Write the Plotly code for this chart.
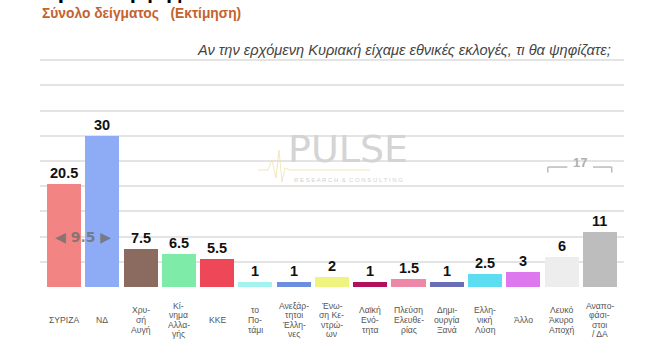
import plotly.graph_objects as go

categories = ["ΣΥΡΙΖΑ", "ΝΔ", "Χρυ-<br>σή<br>Αυγή", "Κί-<br>νημα<br>Αλλα-<br>γής", "ΚΚΕ",
              "το<br>Πο-<br>τάμι", "Ανεξάρ-<br>τητοι<br>Έλλη-<br>νες", "Ένω-<br>ση Κε-<br>ντρώ-<br>ων",
              "Λαϊκή<br>Ενό-<br>τητα", "Πλεύση<br>Ελευθε-<br>ρίας", "Δημι-<br>ουργία<br>Ξανά",
              "Ελλη-<br>νική<br>Λύση", "Άλλο", "Λευκό<br>Άκυρο<br>Αποχή", "Αναπο-<br>φάσι-<br>στοι<br>/ ΔΑ"]
values = [20.5, 30, 7.5, 6.5, 5.5, 1, 1, 2, 1, 1.5, 1, 2.5, 3, 6, 11]
value_labels = ["20.5", "30", "7.5", "6.5", "5.5", "1", "1", "2", "1", "1.5", "1", "2.5", "3", "6", "11"]
colors = ["#F28583", "#8EACF5", "#8B6A60", "#7FEBA9", "#EE4757", "#A3F3F1", "#6C8EE0", "#EEF47E",
          "#B3105C", "#EE88A9", "#6A6EB6", "#5CDDF1", "#DE78EF", "#EDEDED", "#BDBDBD"]
gap_label = "◀ 9.5 ▶"
undecided_sum = "17"

W, H = 660, 340
ML, MR, MT, MB = 40, 36, 35, 53
PW, PH = W - ML - MR, H - MT - MB


def px(x):
    return (x - ML) / PW


def py(y):
    return (H - MB - y) / PH


x_idx = list(range(len(categories)))

fig = go.Figure()
fig.add_trace(go.Bar(x=x_idx, y=values, marker=dict(color=colors, line=dict(width=0)),
                     width=0.89, hoverinfo="skip"))

annotations = []
for i, (v, t) in enumerate(zip(values, value_labels)):
    annotations.append(dict(x=i, y=v, xref="x", yref="y", text="<b>" + t + "</b>", showarrow=False,
                            yanchor="middle", yshift=11,
                            font=dict(family="Liberation Sans, Arial", size=14.5, color="#111111")))

# category labels, line by line
for i, lab in enumerate(categories):
    lines = lab.split("<br>")
    n = len(lines)
    for j, ln in enumerate(lines):
        ypix = 320 + (j - (n - 1) / 2) * 9.6
        annotations.append(dict(x=i, y=py(ypix), xref="x", yref="paper", text=ln, showarrow=False,
                                yanchor="middle", xanchor="center", borderpad=0,
                                font=dict(family="Liberation Sans, Arial", size=8.6, color="#555555")))

# gap annotation
annotations.append(dict(x=0.5, y=10, xref="x", yref="y", text="<b>" + gap_label + "</b>", showarrow=False,
                        yanchor="middle", font=dict(family="DejaVu Sans", size=14, color="rgba(110,110,110,0.8)")))

# 17 bracket
annotations.append(dict(x=13.48, y=24.7, xref="x", yref="y", text="<b>" + undecided_sum + "</b>", showarrow=False,
                        yanchor="middle", font=dict(family="Liberation Sans, Arial", size=13, color="#B0B0B0")))

# titles
annotations.append(dict(x=0, y=py(13), xref="paper", yref="paper", text="<b>Σύνολο δείγματος   (Εκτίμηση)</b>",
                        showarrow=False, xanchor="left", yanchor="middle",
                        font=dict(family="Liberation Sans, Arial", size=13.8, color="#C4622D")))
annotations.append(dict(x=0, y=py(-9), xref="paper", yref="paper", text="<b>Πρόθεση ψήφου</b>",
                        showarrow=False, xanchor="left", yanchor="middle",
                        font=dict(family="Liberation Sans, Arial", size=22, color="#000000")))
annotations.append(dict(x=px(613), y=py(50), xref="paper", yref="paper",
                        text="<i>Αν την ερχόμενη Κυριακή είχαμε εθνικές εκλογές, τι θα ψηφίζατε;</i>",
                        showarrow=False, xanchor="right", yanchor="middle",
                        font=dict(family="Liberation Sans, Arial", size=14.6, color="#444444")))

# watermark
annotations.append(dict(x=px(348), y=py(149), xref="paper", yref="paper", text="PULSE",
                        showarrow=False, xanchor="center", yanchor="middle",
                        font=dict(family="DejaVu Sans ExtraLight, DejaVu Sans, Liberation Sans", size=38, color="#D4D4D4")))
annotations.append(dict(x=px(348), y=py(180), xref="paper", yref="paper", text="R E S E A R C H  &  C O N S U L T I N G",
                        showarrow=False, xanchor="center", yanchor="middle",
                        font=dict(family="Liberation Sans, Arial", size=6, color="#D0D0D0")))

shapes = []
br = "#BBBBBB"
shapes.append(dict(type="line", xref="x", yref="y", x0=12.64, x1=13.15, y0=23.8, y1=23.8, line=dict(color=br, width=1.5)))
shapes.append(dict(type="line", xref="x", yref="y", x0=13.82, x1=14.31, y0=23.8, y1=23.8, line=dict(color=br, width=1.5)))
shapes.append(dict(type="line", xref="x", yref="y", x0=12.64, x1=12.64, y0=23.8, y1=22.7, line=dict(color=br, width=1.5)))
shapes.append(dict(type="line", xref="x", yref="y", x0=14.31, x1=14.31, y0=23.8, y1=22.7, line=dict(color=br, width=1.5)))
# heartbeat of logo
pts = [(258, 170), (268, 170), (272, 160), (276, 178), (279, 150), (282, 182), (285, 168), (290, 170), (370, 170)]
path = "M " + " L ".join(f"{px(a):.4f},{py(b):.4f}" for a, b in pts)
shapes.append(dict(type="path", xref="paper", yref="paper", path=path,
                   line=dict(color="rgba(240,225,170,0.8)", width=1)))

fig.update_layout(
    width=W, height=H, margin=dict(l=ML, r=MR, t=MT, b=MB, pad=0),
    paper_bgcolor="white", plot_bgcolor="white", showlegend=False,
    xaxis=dict(range=[-0.627, 14.63], showticklabels=False, showgrid=False, zeroline=False, fixedrange=True),
    yaxis=dict(range=[0, 50], dtick=5, tick0=0, showgrid=True, gridcolor="#E4E4E4", gridwidth=1.5,
               showticklabels=False, zeroline=False, fixedrange=True),
    annotations=annotations, shapes=shapes, bargap=0,
)
fig.write_html("out.html")
